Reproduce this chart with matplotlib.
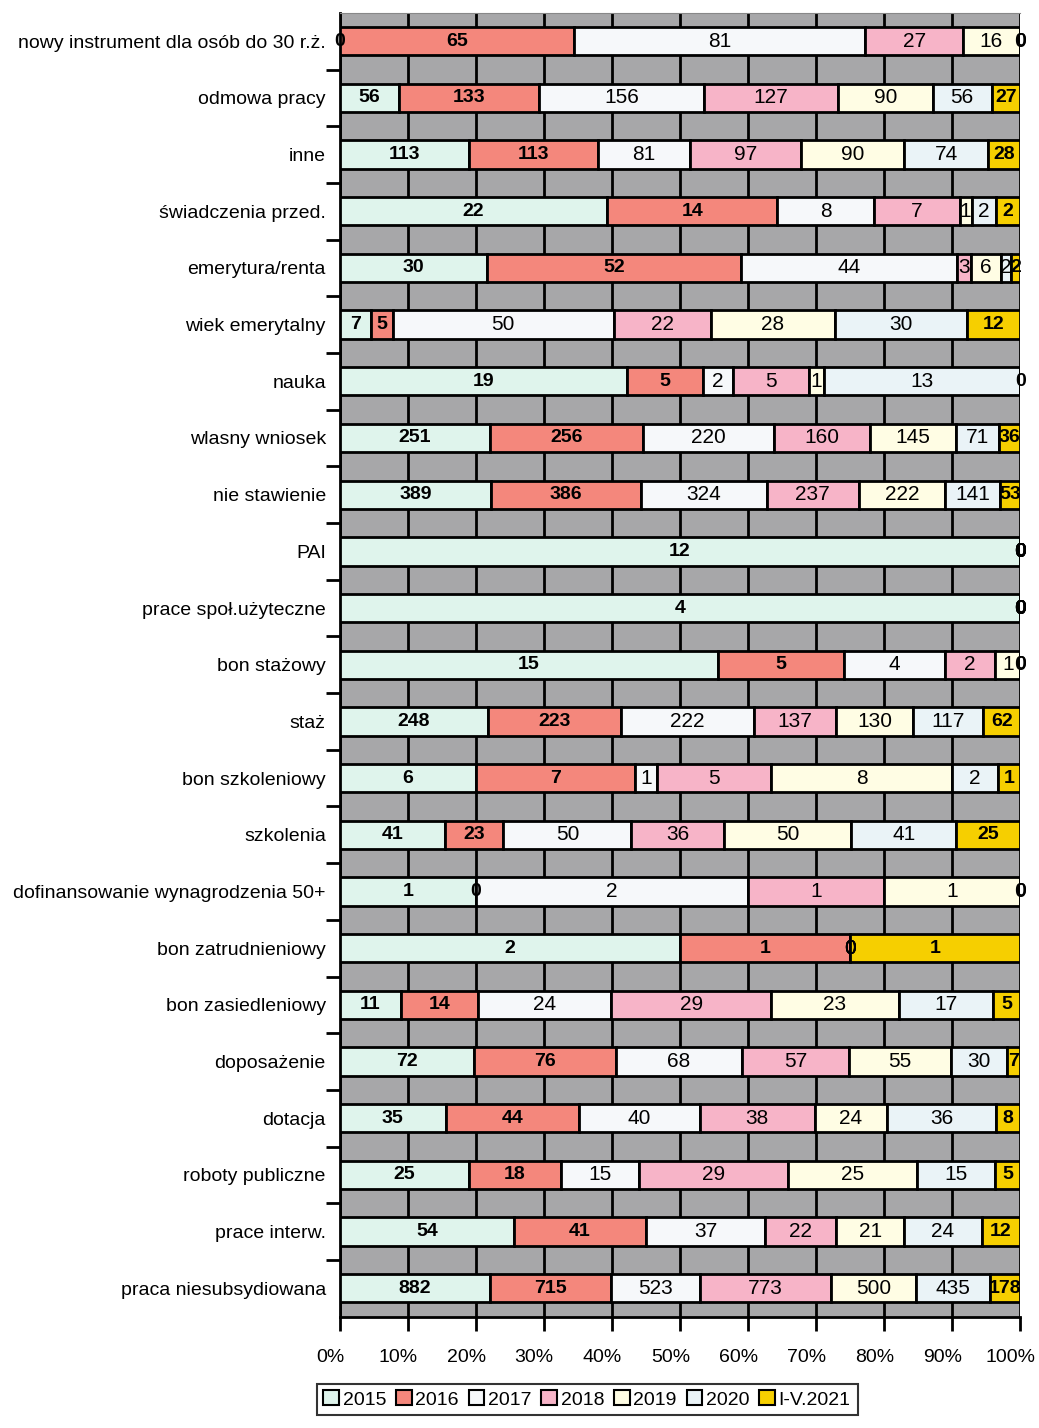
import matplotlib
matplotlib.use("Agg")
import matplotlib.pyplot as plt
import matplotlib.transforms as mtransforms
from matplotlib.patches import Patch
import numpy as np

plt.rcParams['font.family'] = ['Liberation Sans', 'DejaVu Sans']

categories = ["nowy instrument dla osób do 30 r.ż.", "odmowa pracy", "inne",
              "świadczenia przed.", "emerytura/renta", "wiek emerytalny", "nauka",
              "wlasny wniosek", "nie stawienie", "PAI", "prace społ.użyteczne",
              "bon stażowy", "staż", "bon szkoleniowy", "szkolenia",
              "dofinansowanie wynagrodzenia 50+", "bon zatrudnieniowy",
              "bon zasiedleniowy", "doposażenie", "dotacja", "roboty publiczne",
              "prace interw.", "praca niesubsydiowana"]
years = ["2015", "2016", "2017", "2018", "2019", "2020", "I-V.2021"]

v2015 = [0, 56, 113, 22, 30, 7, 19, 251, 389, 12, 4, 15, 248, 6, 41, 1, 2, 11, 72, 35, 25, 54, 882]
v2016 = [65, 133, 113, 14, 52, 5, 5, 256, 386, 0, 0, 5, 223, 7, 23, 0, 1, 14, 76, 44, 18, 41, 715]
v2017 = [81, 156, 81, 8, 44, 50, 2, 220, 324, 0, 0, 4, 222, 1, 50, 2, 0, 24, 68, 40, 15, 37, 523]
v2018 = [27, 127, 97, 7, 3, 22, 5, 160, 237, 0, 0, 2, 137, 5, 36, 1, 0, 29, 57, 38, 29, 22, 773]
v2019 = [16, 90, 90, 1, 6, 28, 1, 145, 222, 0, 0, 1, 130, 8, 50, 1, 0, 23, 55, 24, 25, 21, 500]
v2020 = [0, 56, 74, 2, 2, 30, 13, 71, 141, 0, 0, 0, 117, 2, 41, 0, 0, 17, 30, 36, 15, 24, 435]
v2021 = [0, 27, 28, 2, 2, 12, 0, 36, 53, 0, 0, 0, 62, 1, 25, 0, 1, 5, 7, 8, 5, 12, 178]

colors = ["#dff4ec", "#f4877c", "#f6f8fa", "#f7b4c8", "#fffde4", "#eaf3f7", "#f6cf00"]
bold = [True, True, False, False, False, False, True]

data = np.array([v2015, v2016, v2017, v2018, v2019, v2020, v2021], dtype=float)
shares = data / data.sum(axis=0)

fig = plt.figure(figsize=(10.39, 14.28), dpi=100)
ax = fig.add_axes([0.327, 0.078, 0.655, 0.913])
ax.set_facecolor("#a7a7a9")

y = np.arange(len(categories))
left = np.zeros(len(categories))
for i, yr in enumerate(years):
    ax.barh(y, shares[i], left=left, height=0.5, color=colors[i],
            edgecolor="black", linewidth=2, zorder=3, label=yr)
    for j in range(len(categories)):
        ax.text(left[j] + shares[i, j] / 2, y[j], "%d" % data[i, j],
                ha="center", va="center", zorder=5,
                fontsize=14 if bold[i] else 15,
                fontweight="bold" if bold[i] else "normal")
    left += shares[i]

ax.set_xlim(0, 1)
ax.set_ylim(len(categories) - 0.5, -0.5)
ax.set_xticks(np.arange(0, 1.01, 0.1))
ax.set_xticklabels(["%d%%" % p for p in range(0, 101, 10)], fontsize=14)
ax.xaxis.grid(True, color="black", linewidth=2, zorder=1)
ax.set_axisbelow(True)
ax.tick_params(axis="x", length=10, width=2, pad=13)

ax.set_yticks(y)
ax.set_yticklabels(categories, fontsize=14)
ax.set_yticks(y[:-1] + 0.5, minor=True)
ax.tick_params(axis="y", which="major", length=0, pad=10)
ax.tick_params(axis="y", which="minor", length=10, width=2)

# the scanned labels sit a little left of their ticks
shift = mtransforms.ScaledTranslation(-7 / 72, 0, fig.dpi_scale_trans)
for t in ax.xaxis.get_major_ticks():
    t.label1.set_transform(t.label1.get_transform() + shift)

ax.spines["right"].set_visible(False)
ax.spines["top"].set_color("#888888")
ax.spines["left"].set_linewidth(2)
ax.spines["bottom"].set_linewidth(2)

handles = [Patch(facecolor=c, edgecolor="black", linewidth=1.5) for c in colors]
leg = fig.legend(handles, years, loc="center", bbox_to_anchor=(0.565, 0.02),
                 ncol=7, fontsize=14, frameon=True, fancybox=False,
                 handlelength=0.8, handleheight=0.8, handletextpad=0.2,
                 columnspacing=0.5, borderpad=0.35)
leg.get_frame().set_edgecolor("black")
leg.get_frame().set_linewidth(1.5)

plt.savefig("out.png", dpi=100)
